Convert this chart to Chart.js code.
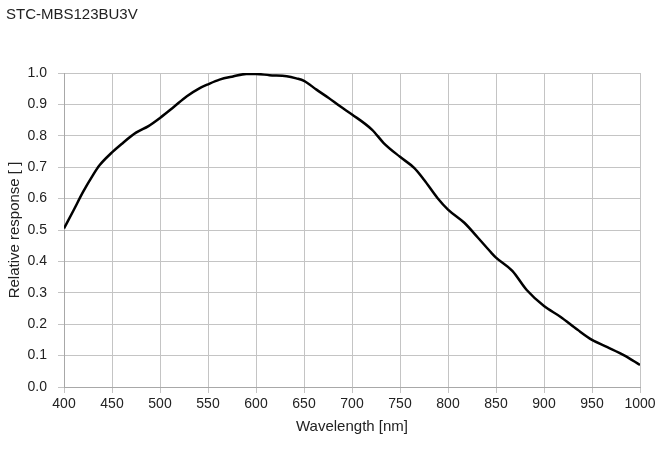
<!DOCTYPE html>
<html>
<head>
<meta charset="utf-8">
<script src="https://cdn.jsdelivr.net/npm/chart.js@4.4.1/dist/chart.umd.min.js"></script>
<style>
  html, body { margin: 0; padding: 0; background: #fff; }
  #chart { display: block; }
</style>
</head>
<body>
<canvas id="chart" width="663" height="452"></canvas>
<script>
// Spectral response
const wavelengths = [400, 410, 420, 430, 437, 450, 460, 475, 488, 500, 514, 528, 541, 550,
  562, 576, 590, 600, 614, 632, 642, 650, 663, 675, 688, 700, 721, 733, 750, 765, 775, 789,
  800, 817, 831, 845, 850, 867, 882, 900, 917, 935, 950, 966, 984, 1000];
const response = [0.505, 0.563, 0.622, 0.674, 0.706, 0.747, 0.774, 0.810, 0.831, 0.857, 0.891, 0.926, 0.951, 0.964,
  0.979, 0.989, 0.997, 0.997, 0.993, 0.990, 0.983, 0.975, 0.947, 0.922, 0.893, 0.868, 0.819, 0.777, 0.733, 0.697, 0.660, 0.602,
  0.565, 0.523, 0.476, 0.428, 0.412, 0.370, 0.309, 0.258, 0.224, 0.182, 0.150, 0.127, 0.100, 0.070];

const chartTitle = 'STC-MBS123BU3V';
const xTitle = 'Wavelength [nm]';
const yTitle = 'Relative response [ ]';

const font = 'Liberation Sans, Arial, sans-serif';
const textColor = '#222';
const gridColor = '#c4c4c4';

const points = wavelengths.map((w, i) => ({ x: w, y: response[i] }));

new Chart(document.getElementById('chart'), {
  type: 'line',
  data: {
    datasets: [{
      data: points,
      borderColor: '#000',
      borderWidth: 2.5,
      pointRadius: 0,
      cubicInterpolationMode: 'monotone',
      fill: false
    }]
  },
  options: {
    responsive: false,
    animation: false,
    layout: { padding: { left: 6, right: 23, top: 0, bottom: 16 } },
    plugins: {
      legend: { display: false },
      tooltip: { enabled: false },
      title: {
        display: true,
        text: chartTitle,
        align: 'start',
        color: textColor,
        font: { family: font, size: 15, weight: 'normal' },
        padding: { top: 6, bottom: 49 }
      }
    },
    scales: {
      x: {
        type: 'linear',
        min: 400,
        max: 1000,
        ticks: {
          stepSize: 50,
          color: textColor,
          font: { family: font, size: 14 },
          padding: 3,
          maxRotation: 0,
          callback: v => String(v)
        },
        grid: { color: gridColor, tickLength: 6, tickColor: gridColor },
        border: { color: '#a8a8a8' },
        title: { display: true, text: xTitle, color: textColor, font: { family: font, size: 15 }, padding: 0 },
        afterFit: s => { s.height = 49; }
      },
      y: {
        min: 0,
        max: 1,
        ticks: {
          stepSize: 0.1,
          color: textColor,
          font: { family: font, size: 14 },
          padding: 11,
          callback: v => v.toFixed(1)
        },
        grid: { color: gridColor, tickLength: 6, tickColor: gridColor },
        border: { color: '#a8a8a8' },
        title: { display: true, text: yTitle, color: textColor, font: { family: font, size: 15 }, padding: 0 },
        afterFit: s => { s.width = 58; }
      }
    }
  }
});
</script>
</body>
</html>
